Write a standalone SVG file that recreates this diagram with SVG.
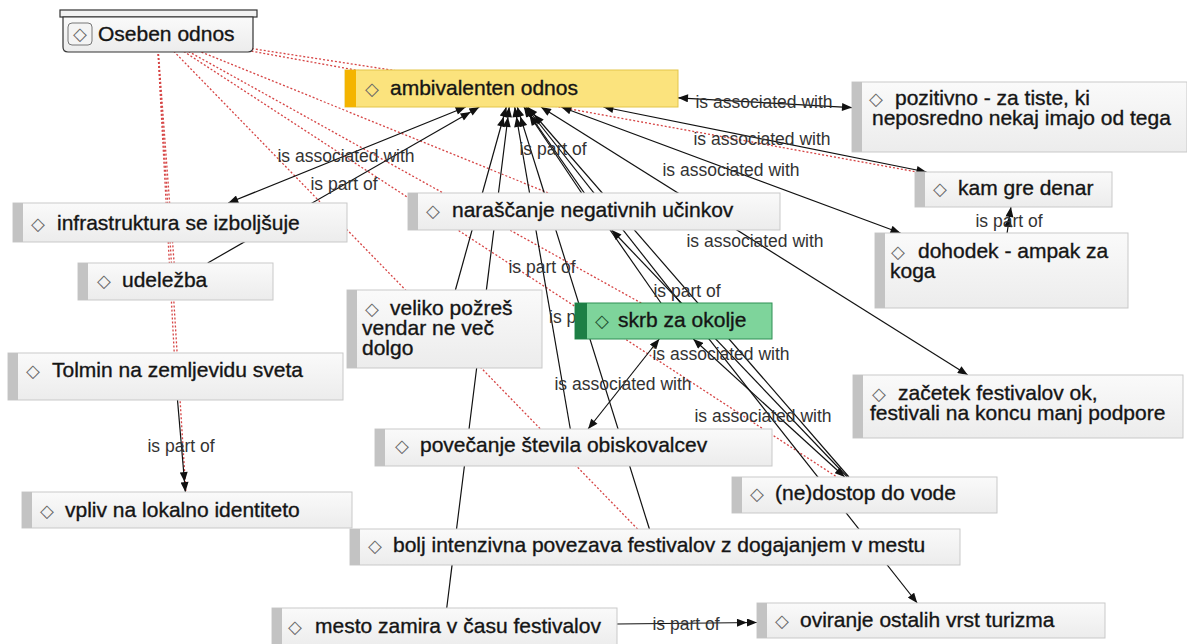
<svg xmlns="http://www.w3.org/2000/svg" width="1187" height="644" viewBox="0 0 1187 644">
<defs>
<linearGradient id="gb" x1="0" y1="0" x2="0" y2="1"><stop offset="0" stop-color="#fafafa"/><stop offset="1" stop-color="#ececec"/></linearGradient>
<marker id="ah" viewBox="0 0 10 8" refX="10" refY="4" markerWidth="11" markerHeight="8" markerUnits="userSpaceOnUse" orient="auto-start-reverse"><path d="M0,0 L10,4 L0,8 z" fill="#111"/></marker>
<marker id="ah2" viewBox="0 0 20 8" refX="20" refY="4" markerWidth="22" markerHeight="8" markerUnits="userSpaceOnUse" orient="auto"><path d="M0,0 L10,4 L0,8 z M10,0 L20,4 L10,8 z" fill="#111"/></marker>
<style>
.box{fill:url(#gb);stroke:#c9c9c9;stroke-width:1}
.stripe{fill:#c3c3c3}
.t{font-family:"Liberation Sans",Arial,sans-serif;font-size:21px;fill:#151515;stroke:#151515;stroke-width:0.35px}
.dia{font-family:"DejaVu Sans",sans-serif;font-size:18px;fill:#666;stroke:none;text-anchor:middle}
.lbl{font-family:"Liberation Sans",Arial,sans-serif;font-size:17.5px;fill:#333;text-anchor:middle}
.ln{stroke:#111;stroke-width:1.2;fill:none}
.rd{stroke:#d64545;stroke-width:1.3;stroke-dasharray:2 2;fill:none}
</style>
</defs>
<rect width="1187" height="644" fill="#ffffff"/>
<g id="connectors">
<g id="red-links">
<line class="rd" x1="157" y1="34" x2="511.5" y2="88.5"/>
<line class="rd" x1="157" y1="34" x2="1013.5" y2="189.5"/>
<line class="rd" x1="157" y1="34" x2="175.5" y2="281.5"/>
<line class="rd" x1="157" y1="34" x2="175.5" y2="376.5"/>
<line class="rd" x1="157" y1="34" x2="187" y2="510"/>
<line class="rd" x1="157" y1="34" x2="655" y2="547"/>
<line class="rd" x1="157" y1="34" x2="673.5" y2="321"/>
<line class="rd" x1="157" y1="34" x2="864.5" y2="495"/>
<line class="rd" x1="157" y1="34" x2="594" y2="211.5"/>
</g>
<g id="assoc-links">
<line class="ln" x1="678" y1="97.8" x2="852" y2="107.6" marker-start="url(#ah)" marker-end="url(#ah)"/>
<line class="ln" x1="603.4" y1="107" x2="926.5" y2="172" marker-start="url(#ah)" marker-end="url(#ah)"/>
<line class="ln" x1="561.3" y1="107" x2="900.5" y2="233" marker-start="url(#ah)" marker-end="url(#ah)"/>
<line class="ln" x1="465.7" y1="107" x2="228.2" y2="203" marker-start="url(#ah)" marker-end="url(#ah)"/>
<line class="ln" x1="541" y1="107" x2="967.8" y2="375" marker-start="url(#ah)" marker-end="url(#ah)"/>
<line class="ln" x1="659.3" y1="339" x2="588.1" y2="429" marker-start="url(#ah)" marker-end="url(#ah)"/>
<line class="ln" x1="526.1" y1="107" x2="917.2" y2="603" marker-start="url(#ah)" marker-end="url(#ah)"/>
<line class="ln" x1="693.3" y1="339" x2="844.7" y2="477" marker-start="url(#ah)" marker-end="url(#ah)"/>
<line class="ln" x1="847.3" y1="477" x2="611.7" y2="230" marker-end="url(#ah)"/>
</g>
<g id="part-links">
<line class="ln" x1="207.7" y1="263" x2="479.3" y2="107" marker-end="url(#ah2)"/>
<line class="ln" x1="1007.1" y1="233" x2="1010.9" y2="207" marker-end="url(#ah2)"/>
<line class="ln" x1="177.5" y1="400" x2="185.4" y2="492" marker-end="url(#ah2)"/>
<line class="ln" x1="617" y1="624" x2="757" y2="622.5" marker-end="url(#ah2)"/>
<line class="ln" x1="455.4" y1="290" x2="506.3" y2="107" marker-end="url(#ah2)"/>
<line class="ln" x1="570.3" y1="429" x2="514.7" y2="107" marker-end="url(#ah2)"/>
<line class="ln" x1="649.4" y1="529" x2="517.3" y2="107" marker-end="url(#ah2)"/>
<line class="ln" x1="446.7" y1="608" x2="509.2" y2="107" marker-end="url(#ah2)"/>
<line class="ln" x1="581.6" y1="193" x2="523.9" y2="107" marker-end="url(#ah2)"/>
<line class="ln" x1="848.9" y1="477" x2="527.6" y2="107" marker-end="url(#ah2)"/>
<line class="ln" x1="661" y1="303" x2="524.4" y2="107" marker-end="url(#ah2)"/>
</g>
<g id="link-labels">
<text class="lbl" x="764" y="108">is associated with</text>
<text class="lbl" x="762" y="145">is associated with</text>
<text class="lbl" x="731" y="176">is associated with</text>
<text class="lbl" x="346" y="162">is associated with</text>
<text class="lbl" x="344" y="190">is part of</text>
<text class="lbl" x="553" y="155">is part of</text>
<text class="lbl" x="755" y="247">is associated with</text>
<text class="lbl" x="1009" y="227">is part of</text>
<text class="lbl" x="542" y="273">is part of</text>
<text class="lbl" x="687" y="297">is part of</text>
<text class="lbl" x="549" y="323" style="text-anchor:start">is p</text>
<text class="lbl" x="721" y="360">is associated with</text>
<text class="lbl" x="623" y="390">is associated with</text>
<text class="lbl" x="763" y="422">is associated with</text>
<text class="lbl" x="181" y="452">is part of</text>
<text class="lbl" x="686" y="630">is part of</text>
</g>
</g>
<g id="n-oseben">
<rect x="60" y="10" width="197" height="7" fill="#f2f2f2" stroke="#333" stroke-width="1.2"/>
<path d="M63,17 H253 V47 Q253,52 248,52 H68 Q63,52 63,47 Z" fill="url(#gb)" stroke="#333" stroke-width="1.2"/>
<rect x="68" y="23" width="24" height="22" rx="4" fill="#f4f4f4" stroke="#777"/>
<text class="t" y="41"><tspan class="dia" x="80" y="40">◇</tspan><tspan x="98" y="41">Oseben odnos</tspan></text>
</g>
<g id="n-ambivalenten">
<rect x="345" y="70" width="333" height="37" fill="#fbe37d" stroke="#e3c54a"/>
<rect x="345" y="70" width="11" height="37" fill="#f4b400"/>
<text class="t" y="95"><tspan class="dia" x="372">◇</tspan><tspan x="390">ambivalenten odnos</tspan></text>
</g>
<g id="n-pozitivno">
<rect class="box" x="852" y="82" width="335" height="70"/>
<rect class="stripe" x="852" y="82" width="10" height="70"/>
<text class="t" y="105"><tspan class="dia" x="876">◇</tspan><tspan x="895">pozitivno - za tiste, ki</tspan><tspan x="872" y="125">neposredno nekaj imajo od tega</tspan></text>
</g>
<g id="n-kam">
<rect class="box" x="915" y="172" width="197" height="35"/>
<rect class="stripe" x="915" y="172" width="10" height="35"/>
<text class="t" y="195"><tspan class="dia" x="940">◇</tspan><tspan x="958">kam gre denar</tspan></text>
</g>
<g id="n-dohodek">
<rect class="box" x="875" y="233" width="253" height="75"/>
<rect class="stripe" x="875" y="233" width="10" height="75"/>
<text class="t" y="258"><tspan class="dia" x="898">◇</tspan><tspan x="918">dohodek - ampak za</tspan><tspan x="890" y="278">koga</tspan></text>
</g>
<g id="n-infrastruktura">
<rect class="box" x="13" y="203" width="334" height="39"/>
<rect class="stripe" x="13" y="203" width="10" height="39"/>
<text class="t" y="230"><tspan class="dia" x="38">◇</tspan><tspan x="57">infrastruktura se izboljšuje</tspan></text>
</g>
<g id="n-narascanje">
<rect class="box" x="408" y="193" width="372" height="37"/>
<rect class="stripe" x="408" y="193" width="10" height="37"/>
<text class="t" y="217"><tspan class="dia" x="433">◇</tspan><tspan x="452">naraščanje negativnih učinkov</tspan></text>
</g>
<g id="n-udelezba">
<rect class="box" x="78" y="263" width="195" height="37"/>
<rect class="stripe" x="78" y="263" width="10" height="37"/>
<text class="t" y="287"><tspan class="dia" x="104">◇</tspan><tspan x="122">udeležba</tspan></text>
</g>
<g id="n-veliko">
<rect class="box" x="347" y="290" width="195" height="78"/>
<rect class="stripe" x="347" y="290" width="10" height="78"/>
<text class="t" y="315"><tspan class="dia" x="372">◇</tspan><tspan x="390">veliko požreš</tspan><tspan x="362" y="335">vendar ne več</tspan><tspan x="362" y="355">dolgo</tspan></text>
</g>
<g id="n-skrb">
<rect x="575" y="303" width="197" height="36" fill="#7ed49b" stroke="#2f8f55"/>
<rect x="575" y="303" width="12" height="36" fill="#1d7f45"/>
<text class="t" y="327"><tspan class="dia" x="602" style="fill:#1d4d2d">◇</tspan><tspan x="618">skrb za okolje</tspan></text>
</g>
<g id="n-tolmin">
<rect class="box" x="8" y="353" width="335" height="47"/>
<rect class="stripe" x="8" y="353" width="10" height="47"/>
<text class="t" y="377"><tspan class="dia" x="33">◇</tspan><tspan x="52">Tolmin na zemljevidu sveta</tspan></text>
</g>
<g id="n-zacetek">
<rect class="box" x="853" y="375" width="330" height="63"/>
<rect class="stripe" x="853" y="375" width="10" height="63"/>
<text class="t" y="400"><tspan class="dia" x="879">◇</tspan><tspan x="898">začetek festivalov ok,</tspan><tspan x="870" y="420">festivali na koncu manj podpore</tspan></text>
</g>
<g id="n-povecanje">
<rect class="box" x="375" y="429" width="397" height="37"/>
<rect class="stripe" x="375" y="429" width="10" height="37"/>
<text class="t" y="452"><tspan class="dia" x="402">◇</tspan><tspan x="420">povečanje števila obiskovalcev</tspan></text>
</g>
<g id="n-nedostop">
<rect class="box" x="732" y="477" width="265" height="36"/>
<rect class="stripe" x="732" y="477" width="10" height="36"/>
<text class="t" y="500"><tspan class="dia" x="757">◇</tspan><tspan x="775">(ne)dostop do vode</tspan></text>
</g>
<g id="n-vpliv">
<rect class="box" x="22" y="492" width="330" height="36"/>
<rect class="stripe" x="22" y="492" width="10" height="36"/>
<text class="t" y="517"><tspan class="dia" x="47">◇</tspan><tspan x="65">vpliv na lokalno identiteto</tspan></text>
</g>
<g id="n-bolj">
<rect class="box" x="350" y="529" width="610" height="36"/>
<rect class="stripe" x="350" y="529" width="10" height="36"/>
<text class="t" y="552"><tspan class="dia" x="375">◇</tspan><tspan x="393">bolj intenzivna povezava festivalov z dogajanjem v mestu</tspan></text>
</g>
<g id="n-mesto">
<rect class="box" x="272" y="608" width="345" height="40"/>
<rect class="stripe" x="272" y="608" width="10" height="40"/>
<text class="t" y="633"><tspan class="dia" x="295">◇</tspan><tspan x="315">mesto zamira v času festivalov</tspan></text>
</g>
<g id="n-oviranje">
<rect class="box" x="757" y="603" width="348" height="35"/>
<rect class="stripe" x="757" y="603" width="10" height="35"/>
<text class="t" y="627"><tspan class="dia" x="782">◇</tspan><tspan x="800">oviranje ostalih vrst turizma</tspan></text>
</g>
</svg>
